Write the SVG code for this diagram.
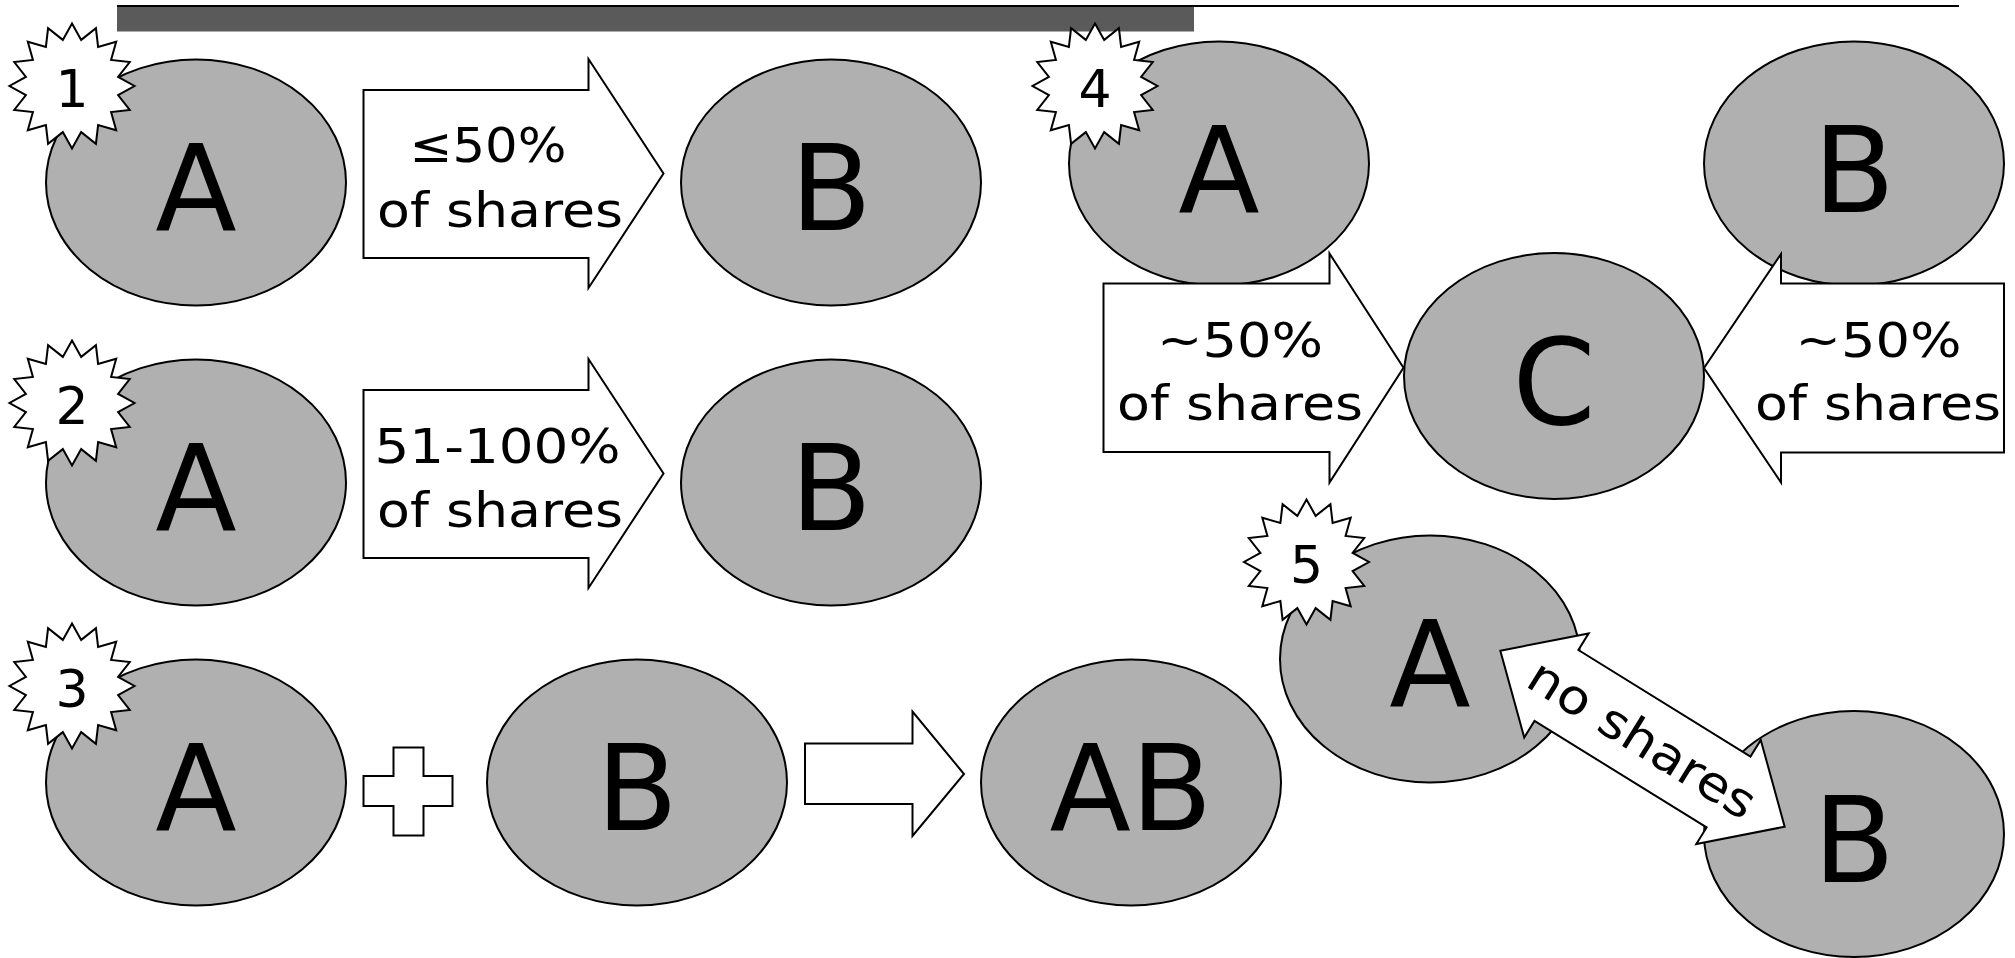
<svg xmlns="http://www.w3.org/2000/svg" xmlns:xlink="http://www.w3.org/1999/xlink" width="2015" height="958" viewBox="0 0 2015 958">
<style>
.node{fill:#b0b0b0;stroke:#000;stroke-width:2}
.big{font-family:"DejaVu Sans","Liberation Sans",sans-serif;font-size:119px;fill:#000;text-anchor:middle}
.arrow{fill:#fff;stroke:#000;stroke-width:2;stroke-linejoin:miter}
.lbl{font-family:"DejaVu Sans","Liberation Sans",sans-serif;font-size:48px;fill:#000;text-anchor:middle}
.star{fill:#fff;stroke:#000;stroke-width:2}
.num{font-family:"DejaVu Sans","Liberation Sans",sans-serif;font-size:52px;fill:#000;text-anchor:middle}
</style>
<defs>
<path id="starShape" d="M0,-62.5 L9.17,-46.1 L23.92,-57.74 L26.11,-39.08 L44.19,-44.19 L39.08,-26.11 L57.74,-23.92 L46.1,-9.17 L62.5,0 L46.1,9.17 L57.74,23.92 L39.08,26.11 L44.19,44.19 L26.11,39.08 L23.92,57.74 L9.17,46.1 L0,62.5 L-9.17,46.1 L-23.92,57.74 L-26.11,39.08 L-44.19,44.19 L-39.08,26.11 L-57.74,23.92 L-46.1,9.17 L-62.5,0 L-46.1,-9.17 L-57.74,-23.92 L-39.08,-26.11 L-44.19,-44.19 L-26.11,-39.08 L-23.92,-57.74 L-9.17,-46.1 Z"/>
</defs>

<g id="header">
<rect x="117" y="7" width="1077" height="24.5" fill="#5a5a5a"/>
<line x1="117" y1="6" x2="1959" y2="6" stroke="#000" stroke-width="2"/>
</g>

<g id="nodes">
<g id="r1-A"><ellipse class="node" cx="196" cy="182.5" rx="150" ry="123"/><text class="big" x="196" y="230">A</text></g>
<g id="r1-B"><ellipse class="node" cx="831" cy="182.5" rx="150" ry="123"/><text class="big" x="831" y="230">B</text></g>
<g id="r2-A"><ellipse class="node" cx="196" cy="482.5" rx="150" ry="123"/><text class="big" x="196" y="530">A</text></g>
<g id="r2-B"><ellipse class="node" cx="831" cy="482.5" rx="150" ry="123"/><text class="big" x="831" y="530">B</text></g>
<g id="r3-A"><ellipse class="node" cx="196" cy="782.5" rx="150" ry="123"/><text class="big" x="196" y="830">A</text></g>
<g id="r3-B"><ellipse class="node" cx="637" cy="782.5" rx="150" ry="123"/><text class="big" x="637" y="830">B</text></g>
<g id="r3-AB"><ellipse class="node" cx="1131" cy="782.5" rx="150" ry="123"/><text class="big" x="1131" y="830">AB</text></g>
<g id="r4-A"><ellipse class="node" cx="1219" cy="163.5" rx="150" ry="122"/><text class="big" x="1219" y="211.5">A</text></g>
<g id="r4-B"><ellipse class="node" cx="1854" cy="163.5" rx="150" ry="122"/><text class="big" x="1854" y="211.5">B</text></g>
<g id="r4-C"><ellipse class="node" cx="1554" cy="376" rx="150" ry="123"/><text class="big" x="1554" y="424">C</text></g>
<g id="r5-A"><ellipse class="node" cx="1430" cy="659" rx="150" ry="123.5"/><text class="big" x="1430" y="706">A</text></g>
<g id="r5-B"><ellipse class="node" cx="1854" cy="834" rx="150" ry="123"/><text class="big" x="1854" y="882">B</text></g>
</g>

<g id="connectors">
<g id="arrow1">
<polygon class="arrow" points="363.5,90 588.5,90 588.5,59 663.5,173.5 588.5,288 588.5,258 363.5,258"/>
<text class="lbl" x="488" y="162" textLength="157" lengthAdjust="spacingAndGlyphs">≤50%</text>
<text class="lbl" x="500" y="227" textLength="246" lengthAdjust="spacingAndGlyphs">of shares</text>
</g>
<g id="arrow2">
<polygon class="arrow" points="363.5,390 588.5,390 588.5,359 663.5,473.5 588.5,588 588.5,558 363.5,558"/>
<text class="lbl" x="497.5" y="463" textLength="246" lengthAdjust="spacingAndGlyphs">51-100%</text>
<text class="lbl" x="500" y="527" textLength="246" lengthAdjust="spacingAndGlyphs">of shares</text>
</g>
<g id="plus">
<path class="arrow" d="M393.5,747.5 H423.5 V776 H452.5 V806 H423.5 V835.5 H393.5 V806 H363.5 V776 H393.5 Z"/>
</g>
<g id="arrow3">
<polygon class="arrow" points="805,743.5 912.5,743.5 912.5,711.5 964,774 912.5,836 912.5,804 805,804"/>
</g>
<g id="arrow4-left">
<polygon class="arrow" points="1103.5,283.5 1329.5,283.5 1329.5,253.5 1403.5,367.7 1329.5,482.5 1329.5,452 1103.5,452"/>
<text class="lbl" x="1240" y="357" textLength="166" lengthAdjust="spacingAndGlyphs">~50%</text>
<text class="lbl" x="1240" y="420" textLength="246" lengthAdjust="spacingAndGlyphs">of shares</text>
</g>
<g id="arrow4-right">
<polygon class="arrow" points="2004,283.5 1781,283.5 1781,254 1704,368 1781,482.5 1781,452.5 2004,452.5"/>
<text class="lbl" x="1878.5" y="357" textLength="166" lengthAdjust="spacingAndGlyphs">~50%</text>
<text class="lbl" x="1878" y="420" textLength="246" lengthAdjust="spacingAndGlyphs">of shares</text>
</g>
<g id="arrow5" transform="translate(1642.5,738.7) rotate(31.76)">
<path class="arrow" d="M-167.2,0 L-101.2,-61.2 L-101.2,-41.7 L101.2,-41.7 L101.2,-61.2 L167.2,0 L101.2,61.2 L101.2,41.7 L-101.2,41.7 L-101.2,61.2 Z"/>
<text class="lbl" x="0" y="17" textLength="258" lengthAdjust="spacingAndGlyphs">no shares</text>
</g>
</g>

<g id="star1"><use xlink:href="#starShape" href="#starShape" class="star" x="72" y="86"/><text class="num" x="72" y="107">1</text></g>
<g id="star2"><use xlink:href="#starShape" href="#starShape" class="star" x="72" y="403"/><text class="num" x="72" y="424">2</text></g>
<g id="star3"><use xlink:href="#starShape" href="#starShape" class="star" x="72" y="686"/><text class="num" x="72" y="707">3</text></g>
<g id="star4"><use xlink:href="#starShape" href="#starShape" class="star" x="1095" y="86"/><text class="num" x="1095" y="107">4</text></g>
<g id="star5"><use xlink:href="#starShape" href="#starShape" class="star" x="1306.5" y="562"/><text class="num" x="1306.5" y="583">5</text></g>
</svg>
